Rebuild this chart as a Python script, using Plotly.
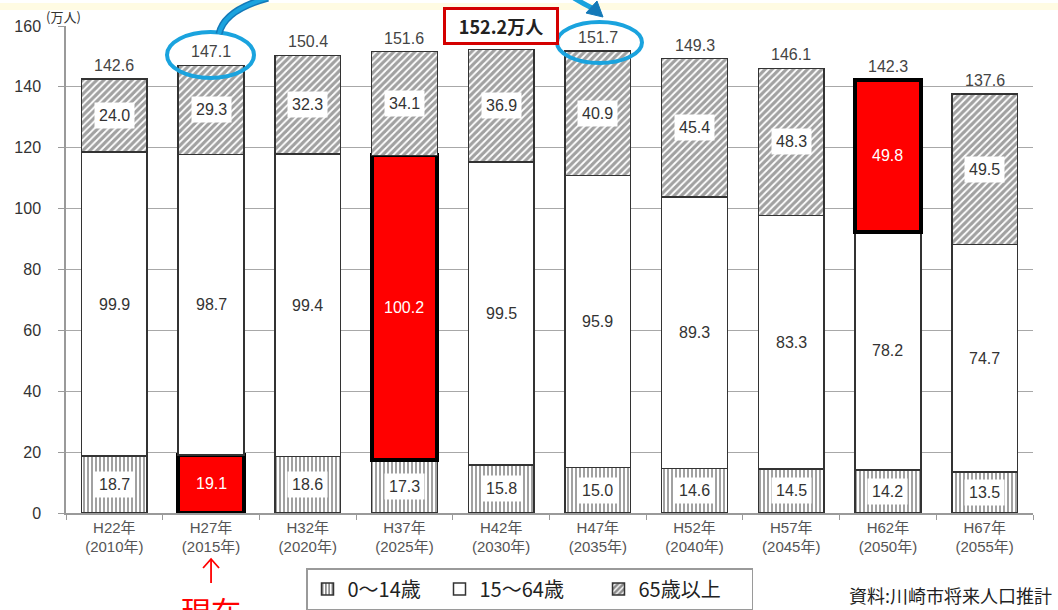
import plotly.graph_objects as go

# ---------------- data ----------------
categories = ["H22年<br>(2010年)", "H27年<br>(2015年)", "H32年<br>(2020年)", "H37年<br>(2025年)",
              "H42年<br>(2030年)", "H47年<br>(2035年)", "H52年<br>(2040年)", "H57年<br>(2045年)",
              "H62年<br>(2050年)", "H67年<br>(2055年)"]
age_0_14 = [18.7, 19.1, 18.6, 17.3, 15.8, 15.0, 14.6, 14.5, 14.2, 13.5]
age_15_64 = [99.9, 98.7, 99.4, 100.2, 99.5, 95.9, 89.3, 83.3, 78.2, 74.7]
age_65_plus = [24.0, 29.3, 32.3, 34.1, 36.9, 40.9, 45.4, 48.3, 49.8, 49.5]
totals = [142.6, 147.1, 150.4, 151.6, 152.2, 151.7, 149.3, 146.1, 142.3, 137.6]
series_names = ["0〜14歳", "15〜64歳", "65歳以上"]
highlight_0_14 = [1]
highlight_15_64 = [3]
highlight_65_plus = [8]
peak_label = "152.2万人"
peak_index = 4
y_ticks = [0, 20, 40, 60, 80, 100, 120, 140, 160]

# ---------------- styles ----------------
RED = "#FF0000"
BLUE = "#1AA3DE"
TXT = "#333333"
FONT = "Liberation Sans, Noto Sans CJK JP, sans-serif"
CJK = "Noto Sans CJK JP, sans-serif"

W, H = 1058, 610
L, R, T, B = 66, 25, 26, 97
PX0, PX1, PY0, PY1 = L, W - R, H - B, T


def pxx(x):
    return (x - PX0) / (PX1 - PX0)


def pxy(y):
    return (PY0 - y) / (PY0 - PY1)


n = len(categories)


def marker_for(hl, shape, size, solidity):
    return dict(
        color=[RED if i in hl else "white" for i in range(n)],
        line=dict(color=["black" if i in hl else "#333333" for i in range(n)],
                  width=[4 if i in hl else 1.5 for i in range(n)]),
        pattern=dict(shape=["" if i in hl else shape for i in range(n)],
                     fgcolor="#1a1a1a", size=size, solidity=solidity, fillmode="overlay"),
    )


fig = go.Figure()
fig.add_trace(go.Bar(x=categories, y=age_0_14, name=series_names[0], legendwidth=87,
                     marker=marker_for(highlight_0_14, "|", 4, 0.5), hoverinfo="skip"))
fig.add_trace(go.Bar(x=categories, y=age_15_64, name=series_names[1], legendwidth=114,
                     marker=marker_for(highlight_15_64, "", 6, 0.5), hoverinfo="skip"))
fig.add_trace(go.Bar(x=categories, y=age_65_plus, name=series_names[2], legendwidth=108,
                     marker=marker_for(highlight_65_plus, "/", 5, 0.65), hoverinfo="skip"))

annotations = []
# segment labels
for i in range(n):
    a, b, c = age_0_14[i], age_15_64[i], age_65_plus[i]
    segs = [(a / 2, a, i in highlight_0_14, True),
            (a + b / 2, b, i in highlight_15_64, False),
            (a + b + c / 2, c, i in highlight_65_plus, True)]
    for ymid, val, hl, boxed in segs:
        annotations.append(dict(
            x=categories[i], y=ymid, xref="x", yref="y", text=f"{val:.1f}", showarrow=False,
            xanchor="center", yanchor="middle",
            font=dict(family=FONT, size=16, color="white" if hl else TXT),
            bgcolor=None if (hl or not boxed) else "white", borderpad=4,
        ))
    if i != peak_index:
        annotations.append(dict(
            x=categories[i], y=totals[i], xref="x", yref="y", text=f"{totals[i]:.1f}",
            showarrow=False, xanchor="center", yanchor="bottom", yshift=3,
            font=dict(family=FONT, size=16, color="#444444"),
        ))

# peak callout box
annotations.append(dict(
    x=categories[peak_index], y=pxy(26), xref="x", yref="paper", text=f"<b>{peak_label}</b>",
    showarrow=False, xanchor="center", yanchor="middle",
    font=dict(family=CJK, size=18, color="#222222"),
    bgcolor="white", bordercolor="#D40000", borderwidth=3, borderpad=0, width=110, height=32,
))
# unit label
annotations.append(dict(x=pxx(63), y=pxy(16), xref="paper", yref="paper", text="(万人)",
                        xanchor="center", yanchor="middle",
                        showarrow=False, font=dict(family=CJK, size=13, color=TXT)))
# current marker text
annotations.append(dict(x=categories[1], y=pxy(586), xref="x", yref="paper", text="現在",
                        showarrow=False, xanchor="center", yanchor="top",
                        font=dict(family=CJK, size=30, color=RED)))
# source
annotations.append(dict(x=pxx(847), y=pxy(595), xref="paper", yref="paper", xanchor="left",
                        yanchor="middle", text="資料:川崎市将来人口推計", showarrow=False,
                        font=dict(family=CJK, size=18, color="#222222")))

shapes = []
# faint yellow band at top
shapes.append(dict(type="rect", xref="paper", yref="paper", x0=pxx(0), x1=pxx(W), y0=pxy(3), y1=pxy(10),
                   fillcolor="#FFFBE3", line=dict(width=0), layer="below"))
# ellipses
shapes.append(dict(type="circle", xref="paper", yref="paper", x0=pxx(167), x1=pxx(254),
                   y0=pxy(78), y1=pxy(32), line=dict(color=BLUE, width=4)))
shapes.append(dict(type="circle", xref="paper", yref="paper", x0=pxx(557), x1=pxx(642),
                   y0=pxy(63), y1=pxy(22), line=dict(color=BLUE, width=4)))


def ppath(segments, close=False):
    parts = []
    for cmd, pts in segments:
        coords = " ".join(f"{pxx(x):.5f},{pxy(y):.5f}" for x, y in pts)
        parts.append(f"{cmd} {coords}")
    return " ".join(parts) + (" Z" if close else "")


# curved arrow out of ellipse 1
curve1 = ppath([("M", [(219, 34)]), ("Q", [(224, 10), (268, -2)])])
shapes.append(dict(type="path", xref="paper", yref="paper", path=curve1,
                   line=dict(color="#1479B8", width=7)))
shapes.append(dict(type="path", xref="paper", yref="paper", path=curve1,
                   line=dict(color=BLUE, width=4)))
# arrow into ellipse 2
shapes.append(dict(type="path", xref="paper", yref="paper",
                   path=ppath([("M", [(574, -2)]), ("Q", [(584, 4), (592, 8)])]),
                   line=dict(color=BLUE, width=5)))
shapes.append(dict(type="path", xref="paper", yref="paper",
                   path=ppath([("M", [(586, 13)]), ("L", [(597, 1)]), ("L", [(603, 17)])], close=True),
                   fillcolor="#1479B8", line=dict(color="#1479B8", width=1)))
# red "current" arrow under H27
cx = PX0 + (PX1 - PX0) * (1 + 0.5) / n
shapes.append(dict(type="path", xref="paper", yref="paper",
                   path=ppath([("M", [(cx, 583)]), ("L", [(cx, 559)])]),
                   line=dict(color=RED, width=1.8)))
shapes.append(dict(type="path", xref="paper", yref="paper",
                   path=ppath([("M", [(cx - 8, 568)]), ("L", [(cx, 559)]), ("L", [(cx + 8, 568)])]),
                   line=dict(color=RED, width=1.8)))

fig.update_layout(
    width=W, height=H, margin=dict(l=L, r=R, t=T, b=B, autoexpand=False),
    paper_bgcolor="white", plot_bgcolor="white",
    barmode="stack", bargap=0.32,
    font=dict(family=FONT, color=TXT),
    showlegend=True,
    legend=dict(orientation="h", x=pxx(306), y=pxy(568), xanchor="left", yanchor="top",
                bordercolor="#9a9a9a", borderwidth=1.5, bgcolor="white",
                font=dict(family=CJK, size=20, color="#222222"), traceorder="normal"),
    xaxis=dict(type="category", showgrid=False, showline=True, linecolor="#9a9a9a", linewidth=1.5,
               ticks="outside", tickson="boundaries", ticklen=5, tickcolor="#9a9a9a", automargin=False,
               tickfont=dict(family=FONT, size=15, color="#555555"), fixedrange=True),
    yaxis=dict(range=[0, 160], tickvals=y_ticks, showgrid=True, gridcolor="#a8a8a8", gridwidth=1.3,
               showline=True, linecolor="#9a9a9a", linewidth=1.5, ticks="outside", ticklen=6,
               tickcolor="#9a9a9a", ticklabelstandoff=14, zeroline=False, automargin=False,
               tickfont=dict(family=FONT, size=16, color=TXT), fixedrange=True),
    annotations=annotations, shapes=shapes,
)

fig.write_html("out.html", config={"displayModeBar": False},
               post_script="document.body.style.margin='0';document.body.style.overflow='hidden';")
